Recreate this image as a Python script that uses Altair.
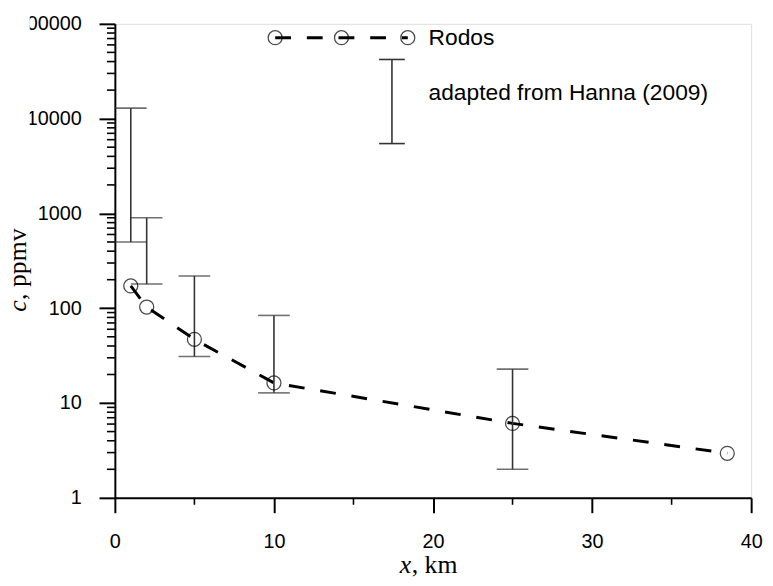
import altair as alt
import pandas as pd

# ---- data ----
x_rodos = [1, 2, 5, 10, 25, 38.5]
c_rodos = [172, 103, 47, 16.3, 6.1, 2.95]

x_hanna = [1, 2, 5, 10, 25]
c_hanna_low = [500, 180, 31, 12.8, 2.0]
c_hanna_high = [12900, 900, 219, 84, 22.8]

y_major = [1, 10, 100, 1000, 10000, 100000]
y_minor = [m * 10 ** k for k in range(5) for m in range(2, 10)]
x_major = [0, 10, 20, 30, 40]
x_minor = [5, 15, 25, 35]

legend_labels = ["Rodos", "adapted from Hanna (2009)"]
x_title = ["x", ", km"]
y_title = ["c", ", ppmv"]

# ---- layout ----
W, H = 643, 479
SANS = "Liberation Sans"
SERIF = "Liberation Serif"

xs = alt.Scale(domain=[0, 40], nice=False, zero=False)
ys = alt.Scale(type="log", domain=[1, 100000], nice=False)

rodos = pd.DataFrame({"x": x_rodos, "c": c_rodos})
hanna = pd.DataFrame({"x": x_hanna, "lo": c_hanna_low, "hi": c_hanna_high})
ymin_df = pd.DataFrame({"v": y_minor})
xmin_df = pd.DataFrame({"v": x_minor})
one = pd.DataFrame({"a": [0]})

x_axis = alt.Axis(values=x_major, tickSize=15, tickWidth=2, tickColor="black",
                  domainColor="black", domainWidth=2, labelFont=SANS,
                  labelFontSize=20, labelColor="black", labelPadding=19,
                  grid=False, title=None, labelFlush=False, zindex=0)
y_axis = alt.Axis(values=y_major, format="d", tickSize=16, tickWidth=2,
                  tickColor="black", domainColor="black", domainWidth=2,
                  labelFont=SANS, labelFontSize=20, labelColor="black",
                  labelPadding=18, grid=False, title=None, labelFlush=False,
                  zindex=0)

line = alt.Chart(rodos).mark_line(color="black", strokeWidth=3,
                                  strokeDash=[16, 16]).encode(
    x=alt.X("x:Q", scale=xs, axis=x_axis),
    y=alt.Y("c:Q", scale=ys, axis=y_axis),
)
pts = alt.Chart(rodos).mark_point(shape="circle", size=200, filled=False,
                                  color="black", strokeWidth=1.3).encode(
    x=alt.X("x:Q", scale=xs), y=alt.Y("c:Q", scale=ys))

bars = alt.Chart(hanna).mark_rule(color="#333333", strokeWidth=1.6).encode(
    x=alt.X("x:Q", scale=xs), y=alt.Y("lo:Q", scale=ys), y2="hi:Q")
cap_lo = alt.Chart(hanna).mark_tick(orient="horizontal", size=32, thickness=1.6,
                                     color="#333333").encode(
    x=alt.X("x:Q", scale=xs), y=alt.Y("lo:Q", scale=ys))
cap_hi = alt.Chart(hanna).mark_tick(orient="horizontal", size=32, thickness=1.6,
                                     color="#333333").encode(
    x=alt.X("x:Q", scale=xs), y=alt.Y("hi:Q", scale=ys))

# minor ticks
ymin = alt.Chart(ymin_df).mark_rule(color="black", strokeWidth=1.6).encode(
    y=alt.Y("v:Q", scale=ys), x=alt.value(-8), x2=alt.value(0))
xmin = alt.Chart(xmin_df).mark_rule(color="black", strokeWidth=1.6).encode(
    x=alt.X("v:Q", scale=xs), y=alt.value(H), y2=alt.value(H + 7))

# crop of the left edge, as in the reference
mask = alt.Chart(one).mark_rect(color="white").encode(
    x=alt.value(-116), x2=alt.value(-86), y=alt.value(-21), y2=alt.value(130))

# legend
LY1 = 14
leg_line = alt.Chart(one).mark_rule(color="black", strokeWidth=3,
                                    strokeDash=[16, 16]).encode(
    x=alt.value(162), x2=alt.value(296), y=alt.value(LY1))
leg_pts = [alt.Chart(one).mark_point(shape="circle", size=200, filled=False,
                                     color="black", strokeWidth=1.3).encode(
    x=alt.value(px), y=alt.value(LY1)) for px in (162, 229, 296)]
leg_t1 = alt.Chart(one).mark_text(font=SANS, fontSize=23, align="left",
                                  baseline="middle", color="black").encode(
    x=alt.value(317), y=alt.value(LY1), text=alt.value(legend_labels[0]))
leg_bar = alt.Chart(one).mark_rule(color="#333333", strokeWidth=1.6).encode(
    x=alt.value(280), y=alt.value(36), y2=alt.value(121))
leg_cap1 = alt.Chart(one).mark_rule(color="#333333", strokeWidth=1.6).encode(
    x=alt.value(267), x2=alt.value(293), y=alt.value(36))
leg_cap2 = alt.Chart(one).mark_rule(color="#333333", strokeWidth=1.6).encode(
    x=alt.value(267), x2=alt.value(293), y=alt.value(121))
leg_t2 = alt.Chart(one).mark_text(font=SANS, fontSize=23, align="left",
                                  baseline="middle", color="black").encode(
    x=alt.value(317), y=alt.value(70), text=alt.value(legend_labels[1]))

# axis titles (italic variable + plain unit)
xt1 = alt.Chart(one).mark_text(font=SERIF, fontSize=26, fontStyle="italic",
                               align="left", baseline="alphabetic",
                               color="black").encode(
    x=alt.value(288), y=alt.value(555), text=alt.value(x_title[0]))
xt2 = alt.Chart(one).mark_text(font=SERIF, fontSize=26, align="left",
                               baseline="alphabetic", color="black").encode(
    x=alt.value(300), y=alt.value(555), text=alt.value(x_title[1]))
yt1 = alt.Chart(one).mark_text(font=SERIF, fontSize=26, fontStyle="italic",
                               angle=270, align="left", baseline="alphabetic",
                               color="black").encode(
    x=alt.value(-90), y=alt.value(291), text=alt.value(y_title[0]))
yt2 = alt.Chart(one).mark_text(font=SERIF, fontSize=26, angle=270,
                               align="left", baseline="alphabetic",
                               color="black").encode(
    x=alt.value(-90), y=alt.value(279), text=alt.value(y_title[1]))

chart = alt.layer(
    line, bars, cap_lo, cap_hi, pts, ymin, xmin, mask,
    leg_line, *leg_pts, leg_t1, leg_bar, leg_cap1, leg_cap2, leg_t2,
    xt1, xt2, yt1, yt2,
).properties(
    width=W, height=H,
    autosize=alt.AutoSizeParams(type="none"),
    padding={"left": 108, "top": 13, "right": 14, "bottom": 78},
).configure_view(stroke=None).configure(background="white")

chart.save("out.html", embed_options={"renderer": "svg", "actions": False})
